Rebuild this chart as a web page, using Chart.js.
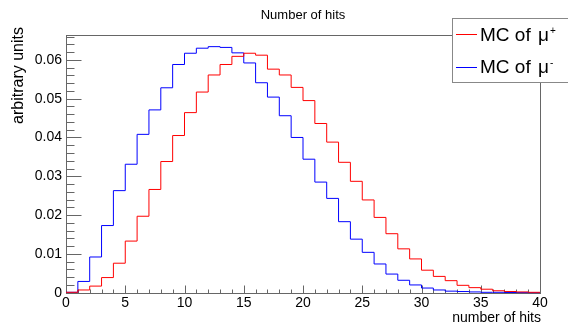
<!DOCTYPE html>
<html><head><meta charset="utf-8">
<script src="https://cdn.jsdelivr.net/npm/chart.js@4"></script>
<style>html,body{margin:0;padding:0;background:#fff}canvas{display:block}</style>
</head><body>
<canvas id="c" width="568" height="324"></canvas>
<script>
const binLowEdges = [0,1,2,3,4,5,6,7,8,9,10,11,12,13,14,15,16,17,18,19,20,21,22,23,24,25,26,27,28,29,30,31,32,33,34,35,36,37,38,39];
const binUpperEdge = 40;
const mcMuPlus = [0.0001,0.0007,0.0017,0.0039,0.0076,0.0133,0.0197,0.0266,0.0338,0.0405,
                  0.0464,0.0517,0.0561,0.0588,0.0609,0.0617,0.0612,0.0576,0.0561,0.0529,
                  0.0495,0.0436,0.0388,0.0336,0.0287,0.0239,0.0194,0.0152,0.0113,0.0087,
                  0.0058,0.0042,0.0031,0.0019,0.0013,0.0009,0.0005,0.0003,0.0002,0.0001];
const mcMuMinus = [0.0001,0.0029,0.0092,0.0173,0.0263,0.0331,0.0408,0.0471,0.0528,0.0588,
                   0.0617,0.0630,0.0634,0.0632,0.0618,0.0592,0.0541,0.0504,0.0456,0.0400,
                   0.0344,0.0285,0.0243,0.0183,0.0138,0.0104,0.0074,0.0048,0.0032,0.0020,
                   0.0012,0.0007,0.0004,0.0003,0.0002,0.0001,0.0001,0.00005,0.00003,0.00002];
const xTickValues = [0,5,10,15,20,25,30,35,40];
const yTickValues = [0,0.01,0.02,0.03,0.04,0.05,0.06];
const yMax = 0.0664;
const chartTitle = 'Number of hits';
const xTitle = 'number of hits';
const yTitle = 'arbitrary units';
const seriesNames = ['MC of ', 'MC of '];
const seriesParticle = ['\u03bc', '\u03bc'];
const seriesCharges = ['+', '-'];
const seriesColors = ['#ff0000', '#0000ff'];

const FONT = "'Liberation Sans', Arial, Helvetica, sans-serif";
Chart.defaults.font.family = FONT;
Chart.defaults.color = '#000';

function histPoints(vals) {
  const p = binLowEdges.map((x, i) => ({x: x, y: vals[i]}));
  p.push({x: binUpperEdge, y: vals[vals.length - 1]});
  return p;
}

const framePlugin = {
  id: 'rootFrame',
  beforeDatasetsDraw(chart) {
    const ctx = chart.ctx, a = chart.chartArea;
    const xs = chart.scales.x, ys = chart.scales.y;
    ctx.save();
    ctx.strokeStyle = '#666';
    ctx.lineWidth = 1;
    const L = Math.round(a.left) + 0.5, R = Math.round(a.right) + 0.5;
    const T = Math.round(a.top) + 0.5, B = Math.round(a.bottom) + 0.5;
    ctx.strokeRect(L, T, R - L, B - T);
    ctx.beginPath();
    for (let k = 0; k * 0.002 <= yMax + 1e-9; k++) {
      const v = k * 0.002;
      const y = Math.round(ys.getPixelForValue(v)) + 0.5;
      const len = (k % 5 === 0) ? 15 : 8;
      ctx.moveTo(L, y); ctx.lineTo(L + len, y);
    }
    for (let v = 0; v <= 40; v++) {
      const x = Math.round(xs.getPixelForValue(v)) + 0.5;
      const len = (v % 5 === 0) ? 8 : 4;
      ctx.moveTo(x, B); ctx.lineTo(x, B - len);
    }
    ctx.stroke();
    ctx.restore();
  },
  afterDraw(chart) {
    const ctx = chart.ctx, a = chart.chartArea;
    ctx.save();
    ctx.fillStyle = '#000';
    ctx.font = '13px ' + FONT;
    ctx.textAlign = 'center';
    ctx.textBaseline = 'alphabetic';
    ctx.fillText(chartTitle, (a.left + a.right) / 2, 19);
    ctx.font = '14px ' + FONT;
    ctx.textAlign = 'right';
    ctx.fillText(xTitle, a.right + 1, 322);
    ctx.save();
    ctx.translate(19, 27);
    ctx.rotate(-Math.PI / 2);
    ctx.font = '16px ' + FONT;
    ctx.textAlign = 'right';
    ctx.textBaseline = 'middle';
    ctx.fillText(yTitle, 0, 0);
    ctx.restore();
    ctx.fillStyle = '#fff';
    ctx.fillRect(452.5, 18.5, 130, 64);
    ctx.strokeStyle = '#888';
    ctx.lineWidth = 1;
    ctx.strokeRect(452.5, 18.5, 130, 64);
    const rows = [34, 66.5];
    for (let i = 0; i < 2; i++) {
      const y = rows[i];
      ctx.strokeStyle = seriesColors[i];
      ctx.beginPath();
      ctx.moveTo(456, Math.round(y) + 0.5);
      ctx.lineTo(477, Math.round(y) + 0.5);
      ctx.stroke();
      ctx.fillStyle = '#000';
      ctx.textAlign = 'left';
      ctx.textBaseline = 'alphabetic';
      ctx.font = '19px ' + FONT;
      const base = y + 6.5;
      ctx.fillText(seriesNames[i], 480, base);
      let x = 480 + ctx.measureText(seriesNames[i]).width + 2;
      ctx.fillText(seriesParticle[i], x, base);
      x += ctx.measureText(seriesParticle[i]).width + 1;
      ctx.font = '10px ' + FONT;
      ctx.fillText(seriesCharges[i], x, base - 7);
    }
    ctx.restore();
  }
};

new Chart(document.getElementById('c').getContext('2d'), {
  type: 'line',
  data: {
    datasets: [
      {label: seriesNames[0] + seriesParticle[0] + seriesCharges[0], data: histPoints(mcMuPlus),
       borderColor: seriesColors[0], borderWidth: 1, stepped: 'before', pointRadius: 0, fill: false, clip: false},
      {label: seriesNames[1] + seriesParticle[1] + seriesCharges[1], data: histPoints(mcMuMinus),
       borderColor: seriesColors[1], borderWidth: 1, stepped: 'before', pointRadius: 0, fill: false, clip: false}
    ]
  },
  options: {
    responsive: false, animation: false, devicePixelRatio: 1,
    layout: {padding: {left: 0, right: 28, top: 35, bottom: 0}},
    plugins: {legend: {display: false}, title: {display: false}, tooltip: {enabled: false}},
    scales: {
      x: {type: 'linear', min: 0, max: 40,
          grid: {display: false, drawTicks: false}, border: {display: false},
          afterBuildTicks: s => { s.ticks = xTickValues.map(v => ({value: v})); },
          afterFit: s => { s.height = 31.3; },
          ticks: {padding: 2, font: {size: 14}, maxRotation: 0, autoSkip: false, color: '#000'}},
      y: {type: 'linear', min: 0, max: yMax,
          grid: {display: false, drawTicks: false}, border: {display: false},
          afterBuildTicks: s => { s.ticks = yTickValues.map(v => ({value: v})); },
          afterFit: s => { s.width = 66; },
          ticks: {padding: 4, font: {size: 14}, color: '#000',
                  callback: v => v === 0 ? '0' : v.toFixed(2)}}
    }
  },
  plugins: [framePlugin]
});
</script>
</body></html>
